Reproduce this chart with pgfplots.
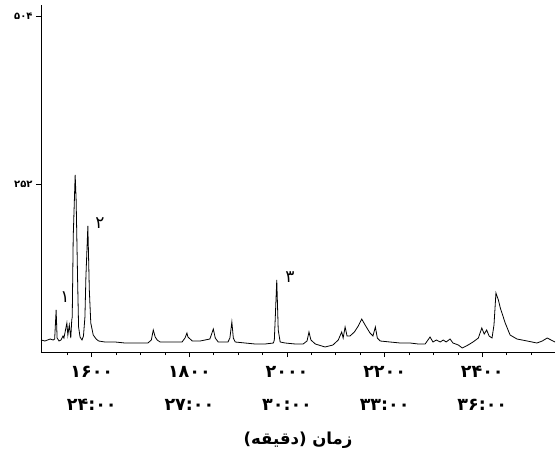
\documentclass[border=0pt]{standalone}
\usepackage{fontspec}
\usepackage{pgfplots}
\pgfplotsset{compat=1.18}
\usetikzlibrary{calc}
\TeXXeTstate=1
\newfontfamily\fa[Script=Arabic]{DejaVu Sans}

\begin{document}
\begin{tikzpicture}
\begin{axis}[
  scale only axis,
  width=514pt, height=347pt,
  xmin=1496, xmax=2549,
  ymin=0, ymax=520.5,
  axis x line=bottom, axis y line=left,
  axis line style={-, line width=0.8pt},
  xtick={1600,1800,2000,2200,2400},
  minor xtick={1550,1650,1700,1750,1850,1900,1950,2050,2100,2150,2250,2300,2350,2450,2500},
  xticklabels={{۱۶۰۰\\[14pt]۲۴:۰۰},{۱۸۰۰\\[14pt]۲۷:۰۰},{۲۰۰۰\\[14pt]۳۰:۰۰},{۲۲۰۰\\[14pt]۳۳:۰۰},{۲۴۰۰\\[14pt]۳۶:۰۰}},
  xticklabel style={align=center, font=\fa\bfseries\fontsize{17.5}{19}\selectfont, yshift=-6pt},
  ytick={252,504},
  yticklabels={۲۵۲,۵۰۴},
  yticklabel style={font=\fa\bfseries\fontsize{10}{12}\selectfont},
  tick align=outside,
  major tick length=5pt, minor tick length=3pt,
  tick style={black, line width=0.7pt},
  xlabel={\fa\bfseries\beginR زمان (دقیقه)\endR},
  xlabel style={font=\fontsize{16.5}{19}\selectfont, yshift=-14pt},
  clip=false,
]
\addplot[black, line width=0.8pt] table {
x y
1496 18
1504 16.5
1515 19.5
1521 18
1524 19.5
1527 63
1529 21
1533 16.5
1537 18
1541 24
1543 21
1549 43.5
1551 25.5
1554 40.5
1557 21
1559 48
1560 52.5
1562 172.5
1566 265.5
1568 228
1571 108
1573 37.5
1576 22.5
1580 18
1583 24
1586 52.5
1588 112.5
1592 189
1595 93
1598 43.5
1603 25.5
1609 19.5
1614 16.5
1627 15
1648 15
1668 13.5
1689 13.5
1715 13.5
1722 18
1726 33
1730 22.5
1734 18
1740 15
1760 15
1785 15
1791 21
1795 28.5
1797 22.5
1806 16.5
1822 16.5
1832 18
1842 19.5
1849 34.5
1853 21
1859 15
1879 15
1883 21
1887 45
1890 21
1894 15
1914 13.5
1935 12
1955 12
1972 13.5
1974 18
1976 52.5
1979 108
1982 33
1986 15
1996 13.5
2017 12
2033 12
2041 16.5
2045 30
2049 18
2058 12
2078 7.5
2094 10.5
2105 18
2112 30
2115 21
2119 37.5
2123 24
2129 24
2138 30
2146 39
2153 49.5
2160 40.5
2170 28.5
2176 24
2181 37.5
2185 21
2191 16.5
2211 15
2232 13.5
2252 13.5
2269 12
2283 12
2293 22.5
2299 15
2306 18
2314 15
2320 18
2326 15
2334 19.5
2340 13.5
2351 10.5
2359 6
2371 10.5
2381 15
2392 21
2399 36
2404 27
2409 33
2414 24
2420 21
2424 40.5
2428 88.5
2433 78
2437 66
2447 43.5
2457 25.5
2471 19.5
2492 16.5
2512 13.5
2523 16.5
2533 21
2541 18
2549 15
};
\node[font=\fa\fontsize{17}{19}\selectfont] at (axis cs:1545,82) {۱};
\node[font=\fa\fontsize{17}{19}\selectfont] at (axis cs:1617,193) {۲};
\node[font=\fa\fontsize{17}{19}\selectfont] at (axis cs:2006,112) {۳};
\draw[black, line width=0.8pt] ($(rel axis cs:1,0)+(0,-16pt)$) -- ($(rel axis cs:1,0)+(0,82pt)$);
\end{axis}
\pgfresetboundingbox
\path ($(current axis.south west)+(-41pt,-99pt)$) rectangle ($(current axis.north east)+(2pt,5pt)$);
\end{tikzpicture}
\end{document}
